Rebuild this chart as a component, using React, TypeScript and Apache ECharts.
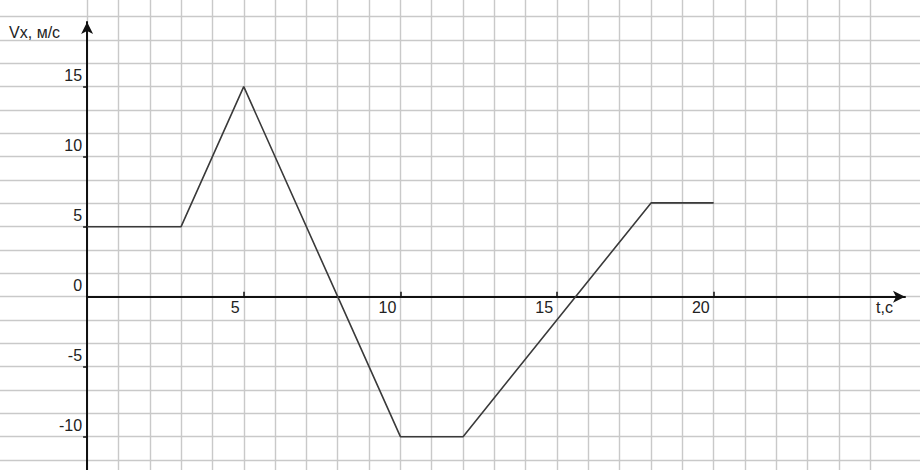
import {useEffect, useRef} from 'react';
import * as echarts from 'echarts';

// velocity vs time
const times = [0, 3, 5, 10, 12, 18, 20];
const speeds = [5, 5, 15, -10, -10, 6.7, 6.7];

const xTickValues = [5, 10, 15, 20];
const yLabelValues = [-10, -5, 0, 5, 10, 15];
const yTickValues = [-10, -5, 5, 10, 15];

const xAxisName = 't,c';
const yAxisName = 'Vx, м/с';

const FONT = "'Liberation Sans', Arial, sans-serif";
const GRID_COLOR = '#c9c9c9';
const AXIS_COLOR = '#111';

// pixel geometry of the paper grid
const X0 = 87.1;
const PX_PER_T = 31.33;
const Y0 = 296.7;
const PX_PER_V = 14.0;

const App = () => {
    const chartRef = useRef<HTMLDivElement>(null);

    useEffect(() => {
        const chart = echarts.init(chartRef.current!, null, {renderer: 'svg'});

        const cell = (5 / 3) * PX_PER_V;
        const hiddenAxis = {show: false};
        const gridLines = {
            show: true,
            lineStyle: {color: GRID_COLOR, width: 1.4},
        };

        chart.setOption({
            animation: false,
            backgroundColor: '#fff',
            textStyle: {fontFamily: FONT},
            grid: [
                // horizontal paper lines, whole width
                {left: 0, width: 920, top: Y0 - 12 * cell, height: 19 * cell, outerBoundsMode: 'none', containLabel: false},
                // vertical paper lines, t = 0..25
                {left: X0, width: 25 * PX_PER_T, top: 0, height: 470, outerBoundsMode: 'none', containLabel: false},
                // the plot itself
                {left: X0, width: 905 - X0, top: 22, height: 448, outerBoundsMode: 'none', containLabel: false},
            ],
            xAxis: [
                {gridIndex: 0, type: 'value', min: 0, max: 1, ...hiddenAxis},
                {
                    gridIndex: 1,
                    type: 'value',
                    min: 0,
                    max: 25,
                    interval: 1,
                    axisLine: {show: false},
                    axisTick: {show: false},
                    axisLabel: {show: false},
                    splitLine: gridLines,
                },
                {
                    gridIndex: 2,
                    type: 'value',
                    min: 0,
                    max: (905 - X0) / PX_PER_T,
                    position: 'bottom',
                    offset: -(470 - Y0),
                    name: xAxisName,
                    nameLocation: 'end',
                    nameGap: 0,
                    nameTextStyle: {
                        fontSize: 16,
                        color: '#222',
                        align: 'right',
                        verticalAlign: 'top',
                        padding: [3, 12, 0, 0],
                    },
                    axisLine: {
                        onZero: false,
                        symbol: ['none', 'arrow'],
                        symbolSize: [9, 12],
                        lineStyle: {color: AXIS_COLOR, width: 2},
                    },
                    axisTick: {
                        show: true,
                        inside: true,
                        length: 5,
                        customValues: xTickValues,
                        lineStyle: {color: AXIS_COLOR, width: 1.5},
                    },
                    axisLabel: {
                        show: true,
                        customValues: xTickValues,
                        fontSize: 16,
                        color: '#222',
                        align: 'right',
                        verticalAlign: 'top',
                        margin: 3,
                        padding: [0, 4, 0, 0],
                    },
                    splitLine: {show: false},
                },
            ],
            yAxis: [
                {
                    gridIndex: 0,
                    type: 'value',
                    min: -7,
                    max: 12,
                    interval: 1,
                    axisLine: {show: false},
                    axisTick: {show: false},
                    axisLabel: {show: false},
                    splitLine: gridLines,
                },
                {gridIndex: 1, type: 'value', min: 0, max: 1, ...hiddenAxis},
                {
                    gridIndex: 2,
                    type: 'value',
                    min: -(470 - Y0) / PX_PER_V,
                    max: (Y0 - 22) / PX_PER_V,
                    name: yAxisName,
                    nameLocation: 'end',
                    nameGap: -10,
                    nameTextStyle: {
                        fontSize: 16,
                        color: '#222',
                        align: 'right',
                        verticalAlign: 'middle',
                        padding: [0, 27, 0, 0],
                    },
                    axisLine: {
                        onZero: false,
                        symbol: ['none', 'arrow'],
                        symbolSize: [9, 12],
                        lineStyle: {color: AXIS_COLOR, width: 2},
                    },
                    axisTick: {
                        show: true,
                        length: 4,
                        customValues: yTickValues,
                        lineStyle: {color: AXIS_COLOR, width: 1.5},
                    },
                    axisLabel: {
                        show: true,
                        customValues: yLabelValues,
                        fontSize: 16,
                        color: '#222',
                        verticalAlign: 'bottom',
                        margin: 5,
                        padding: [0, 0, 3, 0],
                    },
                    splitLine: {show: false},
                },
            ],
            series: [
                {
                    type: 'line',
                    xAxisIndex: 2,
                    yAxisIndex: 2,
                    data: times.map((t, i) => [t, speeds[i]]),
                    symbol: 'none',
                    lineStyle: {color: '#3a3a3a', width: 1.6},
                    z: 3,
                },
            ],
        });

        return () => {
            chart.dispose();
        };
    }, []);

    return (
        <div
            ref={chartRef}
            style={{position: 'fixed', left: 0, top: 0, width: '920px', height: '470px', background: '#fff'}}
        />
    );
};

export default App;
